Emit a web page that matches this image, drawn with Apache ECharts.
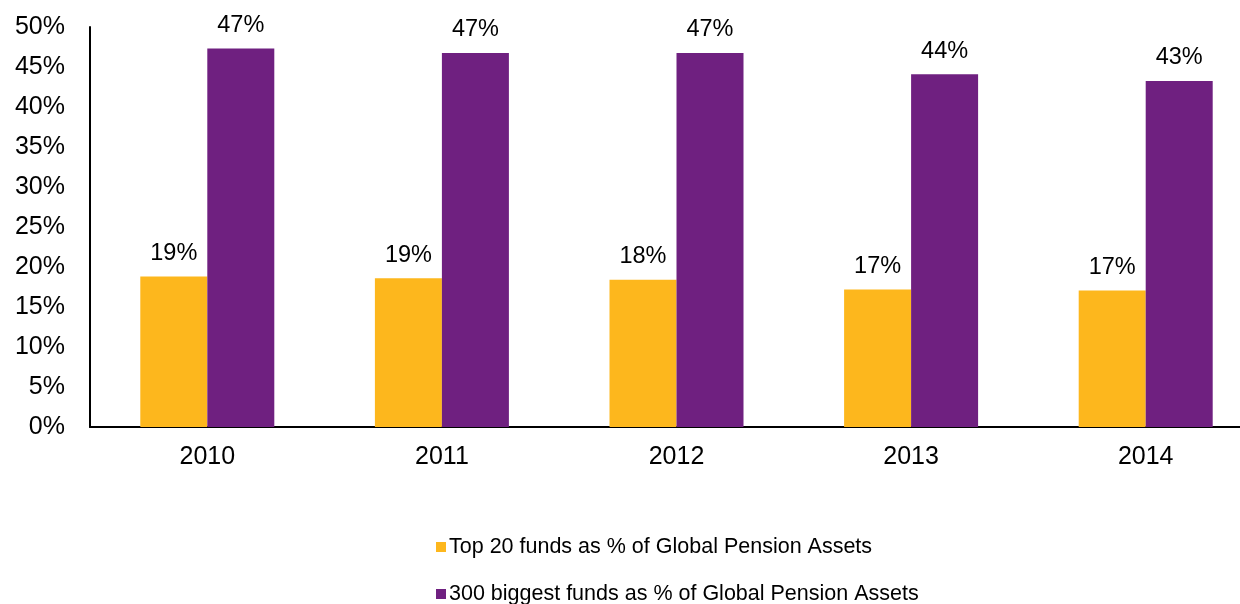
<!DOCTYPE html>
<html>
<head>
<meta charset="utf-8">
<script src="https://cdn.jsdelivr.net/npm/echarts@6/dist/echarts.min.js"></script>
<style>
  html, body { margin: 0; padding: 0; background: #fff; overflow: hidden; }
  /* plot runs past the right edge of the window, as in the source picture */
  #chart { width: 1263px; height: 604px; }
</style>
</head>
<body>
<div id="chart"></div>
<script>
// values (percent)
var years = ['2010', '2011', '2012', '2013', '2014']
var top20 = [18.8, 18.6, 18.4, 17.2, 17.05]
var top300 = [47.3, 46.75, 46.75, 44.1, 43.25]
var seriesNames = [
  'Top 20 funds as % of Global Pension Assets',
  '300 biggest funds as % of Global Pension Assets'
]

var font = 'Liberation Sans, Arial, sans-serif'
var chart = echarts.init(document.getElementById('chart'))

function pctLabel(p) {
  return Math.round(p.value) + '%'
}

function legendAt(name, top) {
  return {
    left: 436,
    top: top,
    padding: 0,
    itemWidth: 10,
    itemHeight: 10,
    icon: 'rect',
    textStyle: { fontFamily: font, fontSize: 21.5, color: '#000', padding: [0, 0, 0, -2] },
    data: [name]
  }
}

chart.setOption({
  animation: false,
  textStyle: { fontFamily: font },
  grid: {
    left: 90,
    top: 27,
    bottom: 177,
    right: 0
  },
  legend: [
    legendAt(seriesNames[0], 536),
    legendAt(seriesNames[1], 583)
  ],
  xAxis: {
    type: 'category',
    data: years,
    axisLine: { lineStyle: { color: '#000', width: 2 } },
    axisTick: { show: false },
    axisLabel: { color: '#000', fontSize: 25, margin: 18, fontFamily: font }
  },
  yAxis: {
    type: 'value',
    min: 0,
    max: 50,
    interval: 5,
    axisLine: { show: true, lineStyle: { color: '#000', width: 2 } },
    axisTick: { show: false },
    splitLine: { show: false },
    axisLabel: { color: '#000', fontSize: 25, margin: 25, formatter: '{value}%', fontFamily: font }
  },
  series: [
    {
      name: seriesNames[0],
      type: 'bar',
      data: top20,
      barWidth: 67,
      barGap: '0%',
      itemStyle: { color: '#FDB71D' },
      label: { show: true, position: 'top', distance: 11, color: '#000', fontSize: 23.5, fontFamily: font, formatter: pctLabel }
    },
    {
      name: seriesNames[1],
      type: 'bar',
      data: top300,
      barWidth: 67,
      barGap: '0%',
      itemStyle: { color: '#6F2080' },
      label: { show: true, position: 'top', distance: 11, color: '#000', fontSize: 23.5, fontFamily: font, formatter: pctLabel }
    }
  ]
})
</script>
</body>
</html>
